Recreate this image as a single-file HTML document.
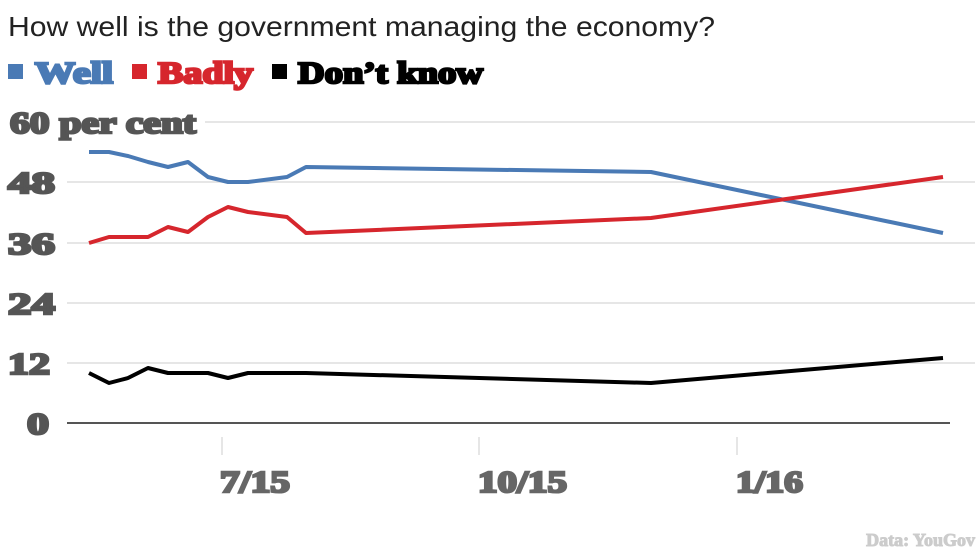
<!DOCTYPE html>
<html><head><meta charset="utf-8"><style>
body{margin:0;background:#fff;width:980px;height:551px;overflow:hidden;}
svg{display:block}
.s{font-family:"Liberation Serif",serif;font-weight:bold;}
</style></head><body>
<svg width="980" height="551" xmlns="http://www.w3.org/2000/svg">
<text x="8" y="36" font-family="Liberation Sans, sans-serif" font-size="28" fill="#222" textLength="707" lengthAdjust="spacingAndGlyphs">How well is the government managing the economy?</text>
<g class="s" font-size="31">
<rect x="8" y="64" width="15" height="15" fill="#4a7ab5"/>
<text x="35" y="83" fill="#4a7ab5" stroke="#4a7ab5" stroke-width="2.5" textLength="78" lengthAdjust="spacingAndGlyphs">Well</text>
<rect x="132" y="64" width="15" height="15" fill="#d6262d"/>
<text x="158" y="83" fill="#d6262d" stroke="#d6262d" stroke-width="2.5" textLength="95" lengthAdjust="spacingAndGlyphs">Badly</text>
<rect x="272" y="64" width="15" height="15" fill="#000"/>
<text x="298" y="83" fill="#000" stroke="#000" stroke-width="2.5" textLength="185" lengthAdjust="spacingAndGlyphs">Don’t know</text>
</g>
<g stroke="#ddd" stroke-width="1.5">
<line x1="205" y1="122" x2="975" y2="122"/>
<line x1="67" y1="182" x2="975" y2="182"/>
<line x1="67" y1="243" x2="975" y2="243"/>
<line x1="67" y1="303" x2="975" y2="303"/>
<line x1="67" y1="363" x2="975" y2="363"/>
<line x1="222" y1="437" x2="222" y2="455"/>
<line x1="479" y1="437" x2="479" y2="455"/>
<line x1="737" y1="437" x2="737" y2="455"/>
</g>
<line x1="67" y1="423" x2="950" y2="423" stroke="#555" stroke-width="2"/>
<g class="s" font-size="31" fill="#555" stroke="#555" stroke-width="2.5" lengthAdjust="spacingAndGlyphs">
<text x="10" y="133" textLength="186" lengthAdjust="spacingAndGlyphs">60 per cent</text>
<text x="8" y="193" textLength="47" lengthAdjust="spacingAndGlyphs">48</text>
<text x="8" y="254" textLength="47" lengthAdjust="spacingAndGlyphs">36</text>
<text x="8" y="314" textLength="47" lengthAdjust="spacingAndGlyphs">24</text>
<text x="8" y="374" textLength="42" lengthAdjust="spacingAndGlyphs">12</text>
<text x="27" y="434" textLength="22" lengthAdjust="spacingAndGlyphs">0</text>
</g>
<g class="s" font-size="31" fill="#666" stroke="#666" stroke-width="2.5">
<text x="220" y="492" textLength="70" lengthAdjust="spacingAndGlyphs">7/15</text>
<text x="478" y="492" textLength="89" lengthAdjust="spacingAndGlyphs">10/15</text>
<text x="736" y="492" textLength="67" lengthAdjust="spacingAndGlyphs">1/16</text>
</g>
<text x="975" y="546" text-anchor="end" class="s" font-size="18" fill="#ccc" stroke="#ccc" stroke-width="1">Data: YouGov</text>
<g fill="none" stroke-width="4" stroke-linejoin="round">
<polyline stroke="#4a7ab5" points="89,152 109,152 128,156 148,162 168,167 188,162 208,177 228,182 248,182 287,177 306,167 651,172 943,233"/>
<polyline stroke="#d6262d" points="89,243 109,237 128,237 148,237 168,227 188,232 208,217 228,207 248,212 287,217 306,233 651,218 943,177"/>
<polyline stroke="#000" points="89,373 109,383 128,378 148,368 168,373 188,373 208,373 228,378 248,373 306,373 651,383 943,358"/>
</g>
</svg>
</body></html>
